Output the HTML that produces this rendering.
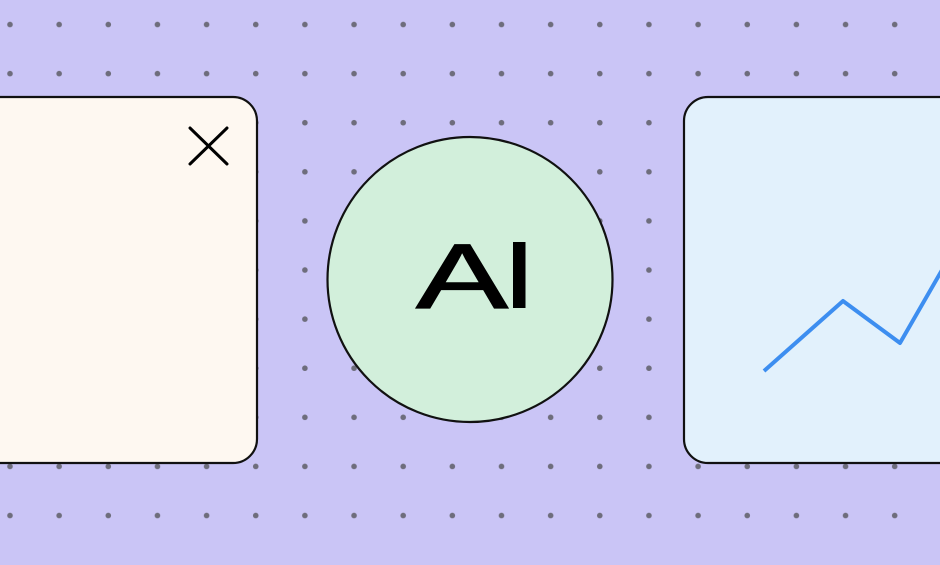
<!DOCTYPE html>
<html><head><meta charset="utf-8"><style>
html,body{margin:0;padding:0;}
body{width:940px;height:560px;overflow:hidden;background:#cac5f6;}
</style></head><body>
<svg width="940" height="560" viewBox="0 0 940 560" xmlns="http://www.w3.org/2000/svg">
<defs>
<pattern id="dots" x="-14.6" y="0" width="49.15" height="49.1" patternUnits="userSpaceOnUse">
<circle cx="24.6" cy="24.5" r="2.8" fill="#6e6d7c"/>
</pattern>
</defs>
<rect width="940" height="560" fill="#cac5f6"/>
<rect width="940" height="560" fill="url(#dots)"/>
<rect x="-40" y="97" width="297" height="366" rx="24" fill="#fef8f1" stroke="#111" stroke-width="2.2"/>
<path d="M190 128 L227 164 M227 128 L190 164" stroke="#000" stroke-width="3" stroke-linecap="round"/>
<rect x="684" y="97" width="300" height="366" rx="24" fill="#e2f1fc" stroke="#111" stroke-width="2.2"/>
<polyline points="764,371 843,301 900,343 942,270" fill="none" stroke="#3d8ef0" stroke-width="4" stroke-linejoin="round"/>
<circle cx="470" cy="279.5" r="142.5" fill="#d2efdb" stroke="#111" stroke-width="2.2"/>
<text transform="translate(416,308) scale(1.5,1)" x="0" y="0" font-family="Liberation Sans, sans-serif" font-size="92" fill="#000" stroke="#000" stroke-width="1.2">A</text>
<text x="509" y="308" font-family="Liberation Sans, sans-serif" font-size="92" fill="#000" stroke="#000" stroke-width="2" style="display:none">I</text>
<rect x="513" y="242" width="12.5" height="66" fill="#000"/>
</svg>
</body></html>
